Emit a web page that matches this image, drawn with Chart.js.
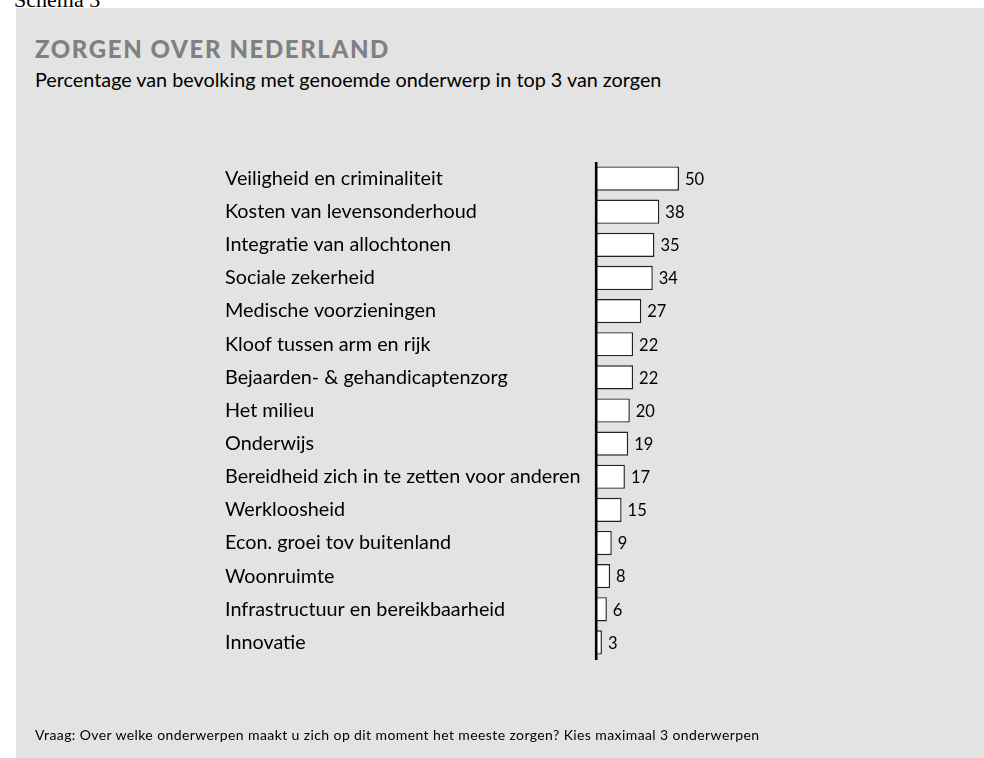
<!DOCTYPE html>
<html lang="nl">
<head>
  <meta charset="UTF-8">
  <title>Zorgen over Nederland</title>
  <script src="https://cdn.jsdelivr.net/npm/chart.js"></script>
  <style>
    html, body {
      margin: 0;
      padding: 0;
      width: 984px;
      height: 758px;
      overflow: hidden;
      background: #ffffff;
      font-family: Lato, "Open Sans", sans-serif;
    }
    #schema {
      position: absolute;
      left: 14px;
      top: -13px;
      font-family: "Liberation Serif", serif;
      font-size: 22px;
      color: #000;
    }
    #panel {
      position: absolute;
      left: 16px;
      top: 8px;
      right: 0;
      bottom: 0;
      background: #e3e3e3;
    }
    #title {
      position: absolute;
      left: 35px;
      top: 34px;
      font-size: 24px;
      font-weight: 900;
      letter-spacing: 1.6px;
      color: #808080;
    }
    #subtitle {
      position: absolute;
      left: 35px;
      top: 67px;
      font-size: 19.8px;
      color: #000;
    }
    #note {
      position: absolute;
      left: 35px;
      top: 726px;
      font-size: 14px;
      letter-spacing: 0.4px;
      color: #000;
    }
    #chart-box {
      position: absolute;
      left: 0;
      top: 0;
      width: 984px;
      height: 758px;
    }
  </style>
</head>
<body>
  <div id="schema">Schema 3</div>
  <div id="panel"></div>
  <div id="title">ZORGEN OVER NEDERLAND</div>
  <div id="subtitle">Percentage van bevolking met genoemde onderwerp in top 3 van zorgen</div>
  <div id="chart-box"><canvas id="chart"></canvas></div>
  <div id="note">Vraag: Over welke onderwerpen maakt u zich op dit moment het meeste zorgen? Kies maximaal 3 onderwerpen</div>

  <script>
    const onderwerpen = [
      "Veiligheid en criminaliteit",
      "Kosten van levensonderhoud",
      "Integratie van allochtonen",
      "Sociale zekerheid",
      "Medische voorzieningen",
      "Kloof tussen arm en rijk",
      "Bejaarden- & gehandicaptenzorg",
      "Het milieu",
      "Onderwijs",
      "Bereidheid zich in te zetten voor anderen",
      "Werkloosheid",
      "Econ. groei tov buitenland",
      "Woonruimte",
      "Infrastructuur en bereikbaarheid",
      "Innovatie"
    ];
    const percentages = [50, 38, 35, 34, 27, 22, 22, 20, 19, 17, 15, 9, 8, 6, 3];

    // waarden naast de balken + dikke nul-as over de balken heen
    const valueLabels = {
      id: "valueLabels",
      afterDatasetsDraw(chart) {
        const ctx = chart.ctx;
        const area = chart.chartArea;
        const x0 = chart.scales.x.getPixelForValue(0);
        const meta = chart.getDatasetMeta(0);
        ctx.save();
        ctx.font = "16.5px Lato";
        ctx.fillStyle = "#000";
        ctx.textAlign = "left";
        ctx.textBaseline = "middle";
        meta.data.forEach((bar, i) => {
          ctx.fillText(String(percentages[i]), bar.x + 6, bar.y + 1);
        });
        ctx.strokeStyle = "#000";
        ctx.lineWidth = 2.6;
        ctx.beginPath();
        ctx.moveTo(x0 - 0.8, area.top);
        ctx.lineTo(x0 - 0.8, area.bottom + 1);
        ctx.stroke();
        ctx.restore();
      }
    };

    new Chart(document.getElementById("chart"), {
      type: "bar",
      data: {
        labels: onderwerpen,
        datasets: [{
          data: percentages,
          backgroundColor: "#ffffff",
          borderColor: "#222222",
          borderWidth: 1.4,
          borderSkipped: "left",
          categoryPercentage: 1,
          barPercentage: 0.73
        }]
      },
      options: {
        indexAxis: "y",
        responsive: true,
        maintainAspectRatio: false,
        animation: false,
        layout: {
          padding: { left: 225, top: 162, bottom: 99, right: 223 }
        },
        plugins: {
          legend: { display: false },
          tooltip: { enabled: false }
        },
        scales: {
          x: {
            display: false,
            min: 0,
            max: 100
          },
          y: {
            afterFit(scale) { scale.width = 372; },
            grid: { display: false },
            border: { display: false },
            ticks: {
              crossAlign: "far",
              color: "#000000",
              font: { family: "Lato", size: 19.8 }
            }
          }
        }
      },
      plugins: [valueLabels]
    });
  </script>
</body>
</html>
